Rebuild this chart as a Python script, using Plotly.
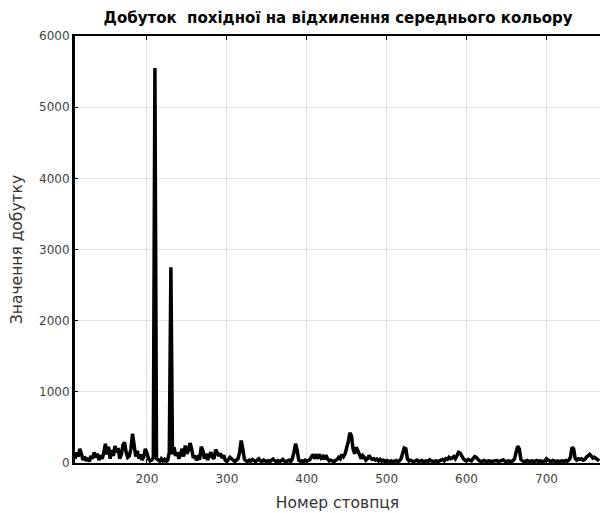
import plotly.graph_objects as go

# Column numbers (every second column) and the product value at each one
columns = list(range(110, 768, 2))

values = [
    # 110 - 208
    60, 150, 90, 200, 130, 40, 90, 30, 70, 20,
    100, 60, 150, 80, 130, 40, 110, 60, 140, 270,
    120, 230, 60, 180, 100, 240, 150, 210, 60, 120,
    250, 290, 150, 80, 100, 200, 410, 250, 90, 170,
    60, 120, 40, 90, 200, 140, 60, 30, 40, 80,
    # 210 - 308
    5550, 60, 40, 25, 60, 30, 50, 20, 40, 150,
    2750, 120, 220, 100, 150, 60, 120, 200, 90, 245,
    130, 180, 280, 200, 70, 105, 40, 80, 50, 230,
    180, 60, 130, 40, 100, 150, 80, 60, 190, 140,
    100, 135, 70, 110, 40, 20, 50, 80, 60, 30,
    # 310 - 408
    20, 40, 60, 150, 315, 200, 50, 30, 20, 40,
    25, 50, 30, 20, 40, 60, 30, 20, 40, 25,
    20, 35, 20, 40, 55, 30, 20, 35, 20, 30,
    50, 25, 20, 30, 40, 20, 60, 150, 270, 180,
    40, 25, 30, 20, 40, 25, 35, 50, 90, 120,
    # 410 - 508
    60, 100, 80, 120, 70, 90, 50, 110, 60, 30,
    40, 25, 20, 35, 50, 80, 60, 120, 90, 130,
    200, 300, 425, 380, 200, 130, 220, 180, 120, 60,
    105, 80, 40, 60, 105, 70, 50, 60, 40, 55,
    30, 50, 25, 40, 20, 35, 25, 20, 30, 20,
    # 510 - 608
    25, 35, 20, 30, 60, 140, 210, 200, 60, 30,
    40, 25, 20, 30, 40, 20, 25, 35, 20, 25,
    30, 20, 45, 30, 20, 25, 30, 20, 35, 40,
    50, 30, 60, 50, 80, 60, 70, 90, 60, 100,
    150, 140, 90, 60, 40, 30, 50, 40, 30, 60,
    # 610 - 708
    90, 80, 50, 30, 20, 25, 35, 20, 25, 30,
    20, 25, 20, 30, 35, 20, 25, 30, 45, 25,
    20, 30, 25, 20, 30, 60, 150, 235, 200, 50,
    30, 20, 25, 35, 20, 25, 30, 20, 25, 35,
    20, 30, 25, 20, 30, 60, 40, 25, 20, 35,
    # 710 - 766
    25, 20, 30, 20, 25, 30, 20, 35, 25, 40,
    80, 220, 200, 60, 40, 60, 50, 60, 40, 50,
    80, 110, 120, 100, 70, 80, 60, 40, 30,
]

x_ticks = [200, 300, 400, 500, 600, 700]
y_ticks = [0, 1000, 2000, 3000, 4000, 5000, 6000]

FONT = "DejaVu Sans, Liberation Sans, Arial, sans-serif"

fig = go.Figure(
    go.Scatter(
        x=columns,
        y=values,
        mode="lines",
        line=dict(color="black", width=3.5),
        hoverinfo="x+y",
    )
)

fig.update_layout(
    width=601,
    height=513,
    margin=dict(l=75, r=1, t=36, b=50),
    paper_bgcolor="white",
    plot_bgcolor="white",
    showlegend=False,
    font=dict(family=FONT, size=12, color="#444"),
    title=dict(
        text="<b>Добуток  похідної на відхилення середнього кольору</b>",
        x=0.5625,
        xanchor="center",
        y=0.965,
        yanchor="middle",
        font=dict(family=FONT, size=15, color="black"),
    ),
)

fig.update_xaxes(
    range=[110, 767],
    tickvals=x_ticks,
    showgrid=True,
    gridcolor="#e2e2e2",
    gridwidth=1,
    zeroline=False,
    showline=True,
    linecolor="black",
    linewidth=2,
    mirror="ticks",
    ticks="inside",
    ticklen=4,
    tickcolor="black",
    ticklabelstandoff=4,
    tickfont=dict(family=FONT, size=12, color="#444"),
    title=dict(text="Номер стовпця", font=dict(family=FONT, size=15.5, color="#333"), standoff=12),
)

fig.update_yaxes(
    range=[0, 6000],
    tickvals=y_ticks,
    showgrid=True,
    gridcolor="#e2e2e2",
    gridwidth=1,
    zeroline=False,
    showline=True,
    linecolor="black",
    linewidth=3,
    ticks="inside",
    ticklen=3,
    tickcolor="black",
    tickfont=dict(family=FONT, size=12, color="#444"),
    title=dict(text="Значення добутку", font=dict(family=FONT, size=15.5, color="#333"), standoff=13),
)

fig.write_html("out.html")
